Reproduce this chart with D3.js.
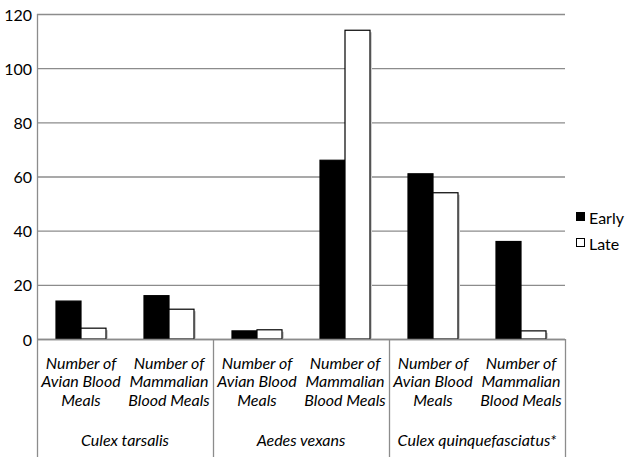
<!DOCTYPE html>
<html>
<head>
<meta charset="utf-8">
<script src="https://cdn.jsdelivr.net/npm/d3@7"></script>
<style>
  html, body { margin: 0; padding: 0; background: #fff; }
  svg { display: block; }
  text { font-family: "Lato", "Open Sans", sans-serif; fill: #000; }
</style>
</head>
<body>
<svg id="chart" width="629" height="466"></svg>
<script>
// ---- data ----
const species = ["Culex tarsalis", "Aedes vexans", "Culex quinquefasciatus*"];
const mealLabels = [
  ["Number of", "Avian Blood", "Meals"],
  ["Number of", "Mammalian", "Blood Meals"]
];
const seriesNames = ["Early", "Late"];
const earlyValues = [14, 16, 3, 66, 61, 36];
const lateValues = [4, 11, 3.4, 114, 54, 3];
const yTicks = [0, 20, 40, 60, 80, 100, 120];

(function () {
// ---- build table ----
const cats = [];
species.forEach((s, i) => {
  mealLabels.forEach((m, j) => {
    const k = i * mealLabels.length + j;
    cats.push({ id: k, species: s, label: m, Early: earlyValues[k], Late: lateValues[k] });
  });
});

const svg = d3.select("#chart");
const pLeft = 37, pRight = 565, pTop = 14, base = 339;

const x = d3.scaleBand().domain(cats.map(d => d.id)).range([pLeft, pRight]).padding(0);
const xs = d3.scaleBand().domain(seriesNames).range([0, x.bandwidth()]).paddingInner(0).paddingOuter(0.76);
const y = d3.scaleLinear().domain([0, 120]).range([base, pTop]);
const grid = "#8c8c8c";

// gridlines
svg.append("g").selectAll("line").data(yTicks).join("line")
  .attr("x1", pLeft).attr("x2", pRight)
  .attr("y1", d => y(d) + 0.5).attr("y2", d => y(d) + 0.5)
  .attr("stroke", grid).attr("stroke-width", 1.3);

// y axis line
svg.append("line").attr("x1", pLeft + 0.5).attr("x2", pLeft + 0.5)
  .attr("y1", pTop).attr("y2", base).attr("stroke", grid).attr("stroke-width", 1.3);

// y tick labels
svg.append("g").selectAll("text").data(yTicks).join("text")
  .attr("x", 32).attr("y", d => y(d))
  .attr("text-anchor", "end").attr("dominant-baseline", "central")
  .style("font-size", "16px")
  .text(d => d);

// bars
const gBars = svg.append("g");
cats.forEach(c => {
  seriesNames.forEach(s => {
    const bx = x(c.id) + xs(s);
    const w = xs.bandwidth();
    if (s === "Late") {
      gBars.append("rect")
        .attr("x", bx + 2).attr("y", y(c[s]) + 2)
        .attr("width", w).attr("height", base - y(c[s]) - 2)
        .attr("fill", "#d0d0d0");
    }
    gBars.append("rect")
      .attr("x", bx).attr("y", y(c[s]))
      .attr("width", w).attr("height", base - y(c[s]))
      .attr("fill", s === "Early" ? "#000" : "#fff")
      .attr("stroke", "#000").attr("stroke-width", 1.2);
  });
});

// baseline redraw
svg.append("line").attr("x1", pLeft).attr("x2", pRight)
  .attr("y1", base + 0.5).attr("y2", base + 0.5)
  .attr("stroke", grid).attr("stroke-width", 1.3);

// category group dividers
const dividers = d3.range(species.length + 1).map(i => pLeft + i * mealLabels.length * x.step());
svg.append("g").selectAll("line").data(dividers).join("line")
  .attr("x1", d => d + 0.5).attr("x2", d => d + 0.5)
  .attr("y1", base).attr("y2", 457)
  .attr("stroke", grid).attr("stroke-width", 1.3);

// category labels
const lineYs = [362, 380.5, 399];
cats.forEach(c => {
  c.label.forEach((t, li) => {
    svg.append("text")
      .attr("x", x(c.id) + x.bandwidth() / 2)
      .attr("y", lineYs[li])
      .attr("text-anchor", "middle").attr("dominant-baseline", "central")
      .style("font-size", "16px").style("font-style", "italic")
      .text(t);
  });
});

// species labels
species.forEach((s, i) => {
  svg.append("text")
    .attr("x", (dividers[i] + dividers[i + 1]) / 2)
    .attr("y", 439)
    .attr("text-anchor", "middle").attr("dominant-baseline", "central")
    .style("font-size", "16px").style("font-style", "italic")
    .text(s);
});

// legend
const legend = svg.append("g");
seriesNames.forEach((s, i) => {
  const cy = 217 + i * 26;
  legend.append("rect")
    .attr("x", 576.5).attr("y", cy - 4.5).attr("width", 8).attr("height", 8)
    .attr("fill", s === "Early" ? "#000" : "#fff")
    .attr("stroke", "#000").attr("stroke-width", 1);
  legend.append("text")
    .attr("x", 589).attr("y", cy)
    .attr("dominant-baseline", "central")
    .style("font-size", "16px")
    .text(s);
});
})();
</script>
</body>
</html>
